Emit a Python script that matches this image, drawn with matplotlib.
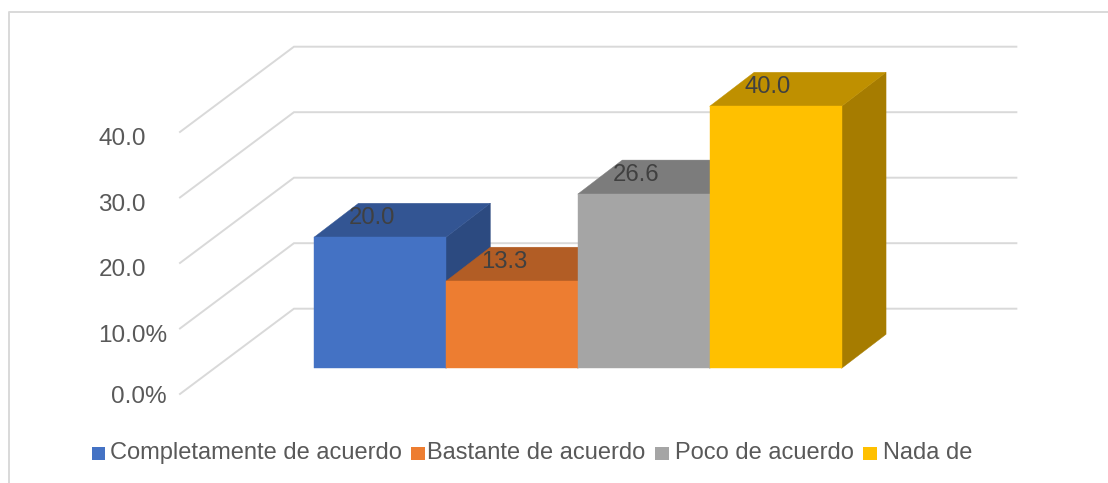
import matplotlib
matplotlib.use("Agg")
import matplotlib.pyplot as plt
from matplotlib.patches import Polygon, Rectangle

plt.rcParams["font.family"] = ["Liberation Sans", "DejaVu Sans"]

categories = ["Completamente de acuerdo", "Bastante de acuerdo", "Poco de acuerdo", "Nada de"]
values = [20.0, 13.3, 26.6, 40.0]
value_labels = ["20.0", "13.3", "26.6", "40.0"]
grid_values = [0, 10, 20, 30, 40]
tick_labels = ["0.0%", "10.0%", "20.0", "30.0", "40.0"]

front_colors = ["#4472C4", "#ED7D31", "#A5A5A5", "#FFC000"]
top_colors = ["#335593", "#B25D25", "#7C7C7C", "#BF9000"]
side_colors = ["#2C4A80", "#9A5120", "#6B6B6B", "#A67C00"]

W, H = 1108, 483
fig = plt.figure(figsize=(W / 100, H / 100), dpi=100)


def fx(px):
    return px / W


def fy(py):
    return 1 - py / H


# axes = the front plane of the bars: one unit per category, value units upward
ax = fig.add_axes([fx(314), fy(368.3), fx(841.6) - fx(314), fy(106.3) - fy(368.3)])
ax.set_xlim(0, len(values))
ax.set_ylim(0, 40)
ax.axis("off")

# depth of a bar and of the walls, in data units
bar_dx, bar_dy = 0.337, 5.19
wall_x0, wall_y0 = -1.016, -3.92
wall_x1, wall_y1 = -0.152, 9.1
wall_x2 = 5.325

grid_color = "#D9D9D9"
for v in grid_values:
    ax.plot([wall_x0, wall_x1, wall_x2], [v + wall_y0, v + wall_y1, v + wall_y1],
            color=grid_color, lw=1.4, clip_on=False, zorder=1, solid_joinstyle="miter")

for i, v in enumerate(values):
    z = 2 + i
    top = [(i, v), (i + 1, v), (i + 1 + bar_dx, v + bar_dy), (i + bar_dx, v + bar_dy)]
    side = [(i + 1, 0), (i + 1 + bar_dx, bar_dy), (i + 1 + bar_dx, v + bar_dy), (i + 1, v)]
    for pts, col in [(side, side_colors[i]), (top, top_colors[i])]:
        ax.add_patch(Polygon(pts, closed=True, fc=col, ec=col, lw=0.3, clip_on=False, zorder=z))
    ax.add_patch(Rectangle((i, 0), 1, v, fc=front_colors[i], ec=front_colors[i], lw=0.3,
                           clip_on=False, zorder=z))

for i, v in enumerate(values):
    ax.text(i + 0.44, v + 2.9, value_labels[i], ha="center", va="center",
            fontsize=17.2, color="#404040", clip_on=False, zorder=10)

# value labels of the axis, placed as in the original
tick_y = [397, 336, 270.5, 205, 139]
for lab, py in zip(tick_labels, tick_y):
    if lab.endswith("%"):
        fig.text(fx(167), fy(py), lab, ha="right", va="center", fontsize=17.5, color="#595959")
    else:
        fig.text(fx(146), fy(py), lab, ha="right", va="center", fontsize=17.5, color="#595959")

# legend, cut off at the last entry like the original
swatch_x = [92, 411, 655, 863]
text_x = [110, 427, 675, 883]
for name, col, sx, tx in zip(categories, front_colors, swatch_x, text_x):
    fig.add_artist(Rectangle((fx(sx), fy(460)), 13.5 / W, 13 / H, transform=fig.transFigure,
                             fc=col, ec="none"))
    fig.text(fx(tx), fy(459), name, ha="left", va="baseline", fontsize=17.05, color="#595959")

# chart frame: only top and left edges show in the crop
fig.add_artist(plt.Line2D([fx(9), fx(9), 1], [0, fy(12), fy(12)], color=grid_color, lw=1.4,
                          transform=fig.transFigure))

fig.savefig("out.png", dpi=100, facecolor="white")
